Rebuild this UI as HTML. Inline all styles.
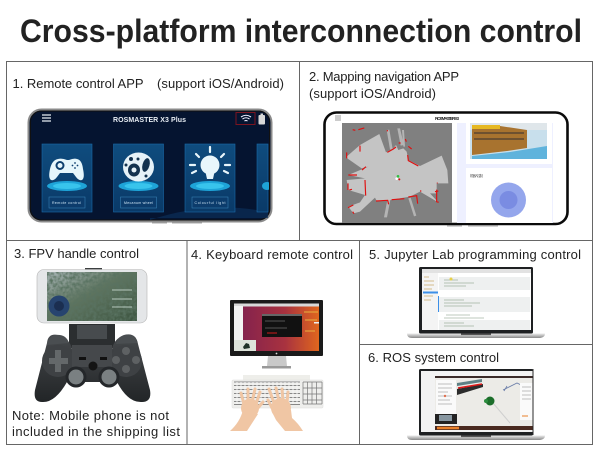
<!DOCTYPE html>
<html><head><meta charset="utf-8"><style>
html,body{margin:0;padding:0;background:#fff;width:600px;height:450px;overflow:hidden}
svg{display:block}
text{font-family:"Liberation Sans",sans-serif;fill:#222}
.l{font-size:13px}
</style></head><body>
<svg width="600" height="450" viewBox="0 0 600 450" xmlns="http://www.w3.org/2000/svg">
<defs>
<linearGradient id="card" x1="0" y1="0" x2="0" y2="1"><stop offset="0" stop-color="#0f4c7e"/><stop offset="1" stop-color="#0a3a68"/></linearGradient>
<linearGradient id="mac" x1="0" y1="0" x2="0" y2="1"><stop offset="0" stop-color="#ececec"/><stop offset="1" stop-color="#888"/></linearGradient>
<linearGradient id="ub" x1="0" y1="0" x2="1" y2="0"><stop offset="0" stop-color="#7d1f50"/><stop offset=".6" stop-color="#a8323f"/><stop offset="1" stop-color="#e0661e"/></linearGradient>
<linearGradient id="pad" x1="0" y1="0" x2="0" y2="1"><stop offset="0" stop-color="#46494c"/><stop offset="1" stop-color="#222527"/></linearGradient>
<linearGradient id="sky" x1="0" y1="0" x2="1" y2="1"><stop offset="0" stop-color="#a9b6b8"/><stop offset=".45" stop-color="#5f7560"/><stop offset="1" stop-color="#3c5440"/></linearGradient>
<filter id="leaf" x="0" y="0" width="100%" height="100%"><feTurbulence type="fractalNoise" baseFrequency=".3" numOctaves="2" seed="4"/><feColorMatrix values="0 0 0 0 .1  0 0 0 0 .17  0 0 0 0 .12  2.200 0 0 0 -.7"/></filter>
<clipPath id="s1"><rect x="30" y="111" width="239" height="109" rx="11"/></clipPath>
<clipPath id="lap6"><rect x="421" y="371" width="112" height="61"/></clipPath>
</defs>
<rect width="600" height="450" fill="#fff"/>
<text x="20" y="42" font-size="32" font-weight="bold" textLength="562" lengthAdjust="spacingAndGlyphs">Cross-platform interconnection control</text>

<g stroke="#666" stroke-width="1" fill="none">
<rect x="6.500" y="61.500" width="586" height="383"/>
<path d="M299.500 61.500V241M6.500 240.500H592.500M187 240.500V444.500M359.500 240.500V444.500M359.500 344.500H592.500"/>
</g>

<text class="l" x="12.500" y="88" textLength="131">1. Remote control APP</text>
<text class="l" x="157" y="88" textLength="127">(support iOS/Android)</text>
<text class="l" x="309" y="81" textLength="150">2. Mapping navigation APP</text>
<text class="l" x="309" y="98" textLength="127">(support iOS/Android)</text>
<text class="l" x="14" y="258" textLength="125">3. FPV handle control</text>
<text class="l" x="191" y="259" textLength="162">4. Keyboard remote control</text>
<text class="l" x="369" y="259" textLength="212">5. Jupyter Lab programming control</text>
<text class="l" x="368" y="362" textLength="131">6. ROS system control</text>
<text class="l" x="12" y="420" textLength="157">Note: Mobile phone is not</text>
<text class="l" x="12" y="436" textLength="168">included in the shipping list</text>

<!-- Phone 1 -->
<rect x="28.500" y="109.500" width="243" height="112" rx="13" fill="#06142c" stroke="#8a8a8a" stroke-width="2"/>
<rect x="30.500" y="111" width="239" height="109" rx="11" fill="#051430" stroke="#111" stroke-width="1"/>
<path d="M150 220 Q210 200 268 212 V218 H150Z" fill="#0c2e58" opacity=".7"/>
<path d="M42 115h9M42 118h9M42 121h9" stroke="#e8eef4" stroke-width="1.200"/>
<text x="113" y="122" font-size="7" font-weight="bold" textLength="73" style="fill:#e8eef4">ROSMASTER X3 Plus</text>
<rect x="236" y="112.500" width="19" height="12" fill="none" stroke="#7a1420" stroke-width="1"/>
<path d="M241 117q5-3.500 10 0M242.500 119q3.500-2.500 7 0M244.500 121q1.500-1 3 0" stroke="#eef" stroke-width="1.100" fill="none"/>
<rect x="258.500" y="115" width="6.500" height="9.500" rx="1" fill="#d8d8d8"/><rect x="260.500" y="113.500" width="2.500" height="1.500" fill="#d8d8d8"/>
<path d="M152 223h15M172 223h30" stroke="#aaa" stroke-width="1"/>

<g clip-path="url(#s1)">
<rect x="42" y="144" width="50" height="68" fill="url(#card)" stroke="#1a6aa8" stroke-width=".6"/>
<rect x="113.500" y="144" width="50" height="68" fill="url(#card)" stroke="#1a6aa8" stroke-width=".6"/>
<rect x="185" y="144" width="50" height="68" fill="url(#card)" stroke="#1a6aa8" stroke-width=".6"/>
<rect x="257" y="144" width="11" height="68" fill="url(#card)" stroke="#1a6aa8" stroke-width=".6"/>
<ellipse cx="67" cy="186" rx="20" ry="5" fill="#1ea4d8"/><ellipse cx="67" cy="186" rx="14" ry="3" fill="#38c4ec"/>
<ellipse cx="138.500" cy="186" rx="20" ry="5" fill="#1ea4d8"/><ellipse cx="138.500" cy="186" rx="14" ry="3" fill="#38c4ec"/>
<ellipse cx="210" cy="186" rx="20" ry="5" fill="#1ea4d8"/><ellipse cx="210" cy="186" rx="14" ry="3" fill="#38c4ec"/>
<ellipse cx="267" cy="186" rx="5" ry="4" fill="#1ea4d8"/>
<rect x="49" y="197" width="36" height="11" fill="#0c3c6c" stroke="#3d88bc" stroke-width=".5"/>
<rect x="120.500" y="197" width="36" height="11" fill="#0c3c6c" stroke="#3d88bc" stroke-width=".5"/>
<rect x="192" y="197" width="36" height="11" fill="#0c3c6c" stroke="#3d88bc" stroke-width=".5"/>
<text x="52" y="204" font-size="3.500" textLength="29" style="fill:#cfe6f5">Remote control</text>
<text x="124" y="204" font-size="3.500" textLength="29" style="fill:#cfe6f5">Mecanum wheel</text>
<text x="194.500" y="204" font-size="3.500" textLength="31" style="fill:#cfe6f5">Colourful light</text>
<!-- gamepad -->
<path d="M58 159q4-1 9 1h2q5-2 8-1q5 1 6 10q2 9-1 11q-3 1-6-3l-3-4h-13l-3 4q-3 4-6 3q-3-2-1-11q2-9 8-10z" fill="#e6f6fb"/>
<circle cx="60" cy="165.500" r="3.500" fill="none" stroke="#0e3f6e" stroke-width="2"/>
<circle cx="75" cy="163" r=".9" fill="#0e3f6e"/><circle cx="77.500" cy="165.500" r=".9" fill="#0e3f6e"/><circle cx="75" cy="168" r=".9" fill="#0e3f6e"/><circle cx="72.500" cy="165.500" r=".9" fill="#0e3f6e"/>
<!-- wheel -->
<ellipse cx="138.500" cy="167" rx="15.500" ry="14.500" fill="#e6f2f8"/>
<g fill="#13324f"><ellipse cx="134" cy="170" rx="6" ry="6.500"/><ellipse cx="146" cy="165" rx="3.500" ry="7" transform="rotate(15 146 165)"/><circle cx="131" cy="159" r="2"/><circle cx="138" cy="159" r="1.500"/><circle cx="126" cy="165" r="1.500"/><circle cx="146" cy="176" r="1.500"/></g>
<circle cx="134" cy="170" r="2.500" fill="#e6f2f8"/>
<!-- bulb -->
<circle cx="210" cy="165" r="9.500" fill="#e8f6fb"/>
<path d="M205.500 172h9l-1.500 7h-6z" fill="#e8f6fb"/>
<path d="M210 152v-5M199 157l-3-3M221 157l3-3M195 165h-5M225 165h5M196 171l-4 2M224 171l4 2" stroke="#e8f6fb" stroke-width="2.200" stroke-linecap="round"/>
</g>

<!-- Phone 2 -->
<rect x="324.500" y="112.500" width="243" height="111.500" rx="12" fill="#fff" stroke="#0a0a0a" stroke-width="2.600"/>
<path d="M447 226h15M468 226h30" stroke="#aaa" stroke-width="1"/>
<path d="M335 116h6M335 118h6M335 120h6" stroke="#999" stroke-width="1"/>
<text x="435" y="120" font-size="4.500" font-weight="bold" textLength="24">ROSMASTER X3</text>
<rect x="457" y="123" width="96" height="100" fill="#eef0ff"/>
<rect x="466" y="123" width="86" height="41" fill="#fff"/>
<rect x="466" y="168" width="86" height="55" fill="#fff"/>
<!-- photo -->
<rect x="470" y="123" width="77" height="36" fill="#c8dfec"/>
<rect x="470" y="123" width="77" height="7" fill="#dfe6ea"/>
<path d="M472 126h28l27 4v18l-20 3-35 4z" fill="#a8732f"/>
<path d="M472 125h28v4h-28z" fill="#e6b822"/>
<path d="M474 133h50M474 139h50" stroke="#5a4630" stroke-width="1.500"/>
<path d="M472 156l38-4 37-6v13h-75z" fill="#5fb3dc"/>
<text x="470" y="177" font-size="3.500" textLength="13" style="font-family:'Liberation Sans','Noto Sans CJK SC',sans-serif;fill:#555">机器人控制</text>
<circle cx="508.500" cy="200" r="17.500" fill="#94a6ec"/>
<circle cx="508.500" cy="200" r="9" fill="#7a8ce2"/>
<!-- map -->
<rect x="342" y="123" width="110" height="100" fill="#808080"/>
<g transform="translate(340 115) scale(.3333)">
<path d="M140 45l8-1 10 58-8 2zM172 40l8 0 12 50-10 2zM186 45l6 0 3 50-5 0zM142 255l9 0-10 52-9 0zM205 250l7-2 17 54-7 2z" fill="#b4b4b4"/>
<path d="M20 125 L60 90 L118 57 L138 112 L160 100 L168 90 L175 105 L190 100 L200 110 L205 135 L240 153 L305 122 L322 165 L325 205 L290 205 L290 235 L270 235 L295 262 L240 230 L210 245 L150 255 L110 258 L105 248 L60 290 L40 295 L25 275 L60 262 L75 240 L25 225 L20 195 L75 190 L25 180 L85 155 L65 160 L22 130 Z" fill="#c4c4c4"/>
<g stroke="#e01010" stroke-width="3.500" fill="none">
<path d="M38 44l8 2M55 44l18-5M142 45v4M176 84l6 0M196 72l3 8M205 94l10 8M142 112l18-10 8-6"/>
<path d="M203 120l2 17 30 16M60 92v18M20 112v18M78 155l-12 10M25 180l26 0M24 205v20M28 225l8-2M75 195l2 47"/>
<path d="M108 258l35-2 3 12M155 254l38-3M205 246l25-4 3 24M24 278l16-8M38 290l4 6M292 205v-2M290 224v36l6 2M240 228l4 0M285 230l10-2"/>
</g>
<circle cx="174" cy="184" r="4" fill="#2fc040"/><circle cx="170" cy="191" r="4" fill="#fff"/><circle cx="178" cy="193" r="3" fill="#d01010"/>
</g>

<!-- FPV phone -->
<rect x="85" y="268" width="17" height="5" fill="#3c3f40"/>
<rect x="37" y="269.500" width="110" height="53.500" rx="7" fill="#e4e6e8" stroke="#b5b5b5" stroke-width=".6"/>
<rect x="47" y="272" width="90" height="49" fill="url(#sky)"/>
<rect x="47" y="272" width="90" height="49" filter="url(#leaf)"/>
<path d="M112 290h20M112 299h20M112 307h20" stroke="#d8e8e0" stroke-width=".7"/>
<circle cx="59" cy="306" r="10.500" fill="#27446f"/>
<circle cx="59" cy="306" r="5" fill="#1b2e50"/>
<!-- mount -->
<rect x="69" y="324" width="46" height="24" fill="#2b2e30"/>
<rect x="77" y="325" width="30" height="14" fill="#474b4e"/>
<!-- controller -->
<path d="M58 335 Q48 333 47 343 L35 390 Q33 402 42 402 Q55 403 67 382 H117 Q128 403 142 402 Q152 402 150 390 L138 344 Q136 332 124 335 Q114 339 112 349 H72 Q70 339 58 335Z" fill="url(#pad)"/>
<path d="M56 335q10-1 13 8l-22 2q1-9 9-10zM125 335q11-1 12 8l-21 1q2-8 9-9z" fill="#4a4e51"/>
<circle cx="58" cy="361" r="16" fill="#3e4144"/><circle cx="126" cy="361" r="16" fill="#3e4144"/>
<rect x="72" y="345" width="40" height="22" fill="#45484b"/>
<path d="M49 358h6v-8h6v8h7v6h-7v8h-6v-8h-6z" fill="#64686a"/>
<circle cx="126" cy="351" r="4" fill="#5e6163"/><circle cx="126" cy="369" r="4" fill="#5e6163"/><circle cx="116" cy="360" r="4" fill="#5e6163"/><circle cx="136" cy="360" r="4" fill="#5e6163"/>
<rect x="79" y="357" width="7" height="3" fill="#111"/><rect x="100" y="357" width="7" height="3" fill="#111"/>
<circle cx="93" cy="366" r="4.500" fill="#141414"/>
<circle cx="76" cy="377" r="10.500" fill="#24272a"/><circle cx="76" cy="377" r="7.500" fill="#7a8082"/>
<circle cx="109" cy="377" r="10.500" fill="#24272a"/><circle cx="109" cy="377" r="7.500" fill="#7a8082"/>

<!-- Monitor -->
<rect x="230" y="300" width="93" height="56" rx="1" fill="#1a1a1a"/>
<rect x="234" y="303.500" width="85" height="47.500" fill="url(#ub)"/>
<rect x="234" y="303.500" width="85" height="3" fill="#d8d8d8"/>
<rect x="234" y="306" width="9" height="45" fill="#f3f3f3"/>
<rect x="234" y="340" width="22" height="11" fill="#dde3da"/>
<path d="M243 347l3-4 3 1 1 4-6 1z" fill="#203228"/>
<rect x="262" y="314" width="40" height="23" fill="#111"/><rect x="262" y="314" width="40" height="2" fill="#666"/>
<path d="M265 321h20M265 328h22" stroke="#999" stroke-width=".5"/>
<path d="M267 333h10" stroke="#d01a1a" stroke-width="1"/>
<path d="M304 312h14M305 320h12M305 331h10" stroke="#e8b040" stroke-width="1"/>
<rect x="314" y="322" width="5" height="1.500" fill="#eee"/>
<path d="M268 356h18l1 10h-20z" fill="#c9c9c9"/><path d="M262 366h29v2.500h-29z" fill="#999"/>
<circle cx="276.500" cy="353.500" r=".9" fill="#ddd"/>
<!-- Keyboard -->
<rect x="243" y="375" width="67" height="6" fill="#eeeeea"/>
<rect x="232" y="380" width="91" height="28" rx="1" fill="#eeeeec" stroke="#ddd" stroke-width=".5"/>
<path d="M234 382h66M234 385.500h66M234 389.500h66M234 393.500h66M234 397.500h66M234 401.500h66M234 404.500h66" stroke="#666" stroke-width=".8"/>
<path d="M237 382v22M241 382v22M245 382v22M249 382v22M253 382v22M257 382v22M261 382v22M265 382v22M269 382v22M273 382v22M277 382v22M281 382v22M285 382v22M289 382v22M293 382v22M297 382v22" stroke="#f6f6f6" stroke-width="1"/>
<path d="M303 382h19M303 388h19M303 394h19M303 400h19M303 404h19M303 382v22M307.500 382v22M312 382v22M316.500 382v22M322 382v22" stroke="#777" stroke-width=".7"/>
<!-- Hands -->
<g fill="#f0c6a4" stroke="none">
<path d="M230 431h17l11-17-15-4q-3 12-13 21z"/>
<ellipse cx="250" cy="408" rx="9" ry="9.500"/>
<path d="M285 431h18q-5-8-11-13l-1-8-19 2 4 8z"/>
<ellipse cx="281" cy="408" rx="10" ry="10"/>
</g>
<g stroke="#f0c6a4" stroke-width="3" stroke-linecap="round" fill="none">
<path d="M244 404l-3-11M248 402v-13M252 402l3-13M256 404l4-12M257 409l6-7"/>
<path d="M274 403l-5-14M279 401l-3-13M283 401l-1-12M287 403l1-11M272 408l-4-8"/>
</g>

<!-- Laptop 5 -->
<rect x="419" y="267" width="114" height="66.500" rx="1.500" fill="#1e2022"/>
<rect x="422" y="269" width="109" height="61" fill="#fff"/>
<rect x="422" y="269" width="109" height="4" fill="#e2e2e2"/>
<rect x="422" y="273" width="16" height="57" fill="#f4f4f4"/>
<rect x="423" y="291.500" width="15" height="2" fill="#3c8fe8"/>
<path d="M424 277h5M424 281h10M424 285h10M424 289h8M424 296h9M424 300h7" stroke="#c9a86a" stroke-width=".8"/>
<rect x="439" y="277" width="91" height="13" fill="#eef0f0"/>
<rect x="439" y="297" width="91" height="15" fill="#eef0f0"/>
<rect x="439" y="320" width="91" height="10" fill="#eef0f0"/>
<path d="M444 280h14M444 283h30M444 286h22M444 300h20M444 303h36M444 306h28M446 315h24M444 318h40M444 323h20M444 326h30" stroke="#7a947a" stroke-width=".6"/>
<circle cx="451" cy="279" r="1.500" fill="#e8d048"/>
<rect x="438" y="296" width="1" height="16" fill="#3c8fe8"/>
<path d="M407 333.500h138q0 4-5 4.500H412q-5 0-5-4.500z" fill="url(#mac)"/>
<rect x="461" y="333.500" width="30" height="1.600" fill="#555"/>

<!-- Laptop 6 -->
<rect x="419" y="369" width="114" height="66.500" rx="1.500" fill="#1e2022"/>
<g clip-path="url(#lap6)">
<rect x="421" y="371" width="112" height="61" fill="#f2f2f2"/>
<rect x="435" y="376" width="98" height="54" fill="#ecebe7"/>
<rect x="435" y="376" width="98" height="2" fill="#3a2a28"/>
<rect x="435" y="426" width="98" height="4" fill="#4a2a20"/>
<path d="M437 428h22" stroke="#e8802a" stroke-width="2.500"/>
<rect x="436" y="380" width="20" height="34" fill="#fafafa"/>
<path d="M438 384h14M438 388h14M438 392h10M438 396h14M438 400h12M438 404h14" stroke="#aaa" stroke-width=".7"/>
<circle cx="445" cy="396" r="1.200" fill="#e07050"/>
<rect x="435" y="414" width="22" height="10" fill="#222"/>
<rect x="439" y="415" width="13" height="6" fill="#8796a0"/>
<path d="M457 389l26-5v3l-26 8z" fill="#2c2c2c"/>
<path d="M457 383l25-4v3l-25 4z" fill="#5e8085"/>
<path d="M458 388l24-4" stroke="#e01a1a" stroke-width="1.500"/>
<path d="M503 390l14-7 6 3M507 386l-3 5" stroke="#6a7ca8" stroke-width=".8" fill="none"/>
<path d="M493 403l17 20" stroke="#cfcfcf" stroke-width="1"/>
<circle cx="490" cy="401" r="4.500" fill="#1c6e2a"/><circle cx="486" cy="401" r="2" fill="#2c8c3e"/>
<rect x="520" y="383" width="13" height="37" fill="#fafafa"/>
<path d="M522 387h9M522 391h9M522 395h9M522 399h9" stroke="#aaa" stroke-width=".8"/>
<path d="M522 416h6" stroke="#e8802a" stroke-width="1"/>
</g>
<path d="M533 369v66" stroke="#2a2a2a" stroke-width="1"/>
<path d="M407 435.500h138q0 4-5 4.500H412q-5 0-5-4.500z" fill="url(#mac)"/>
<rect x="461" y="435.500" width="30" height="1.600" fill="#555"/>
</svg>
</body></html>
